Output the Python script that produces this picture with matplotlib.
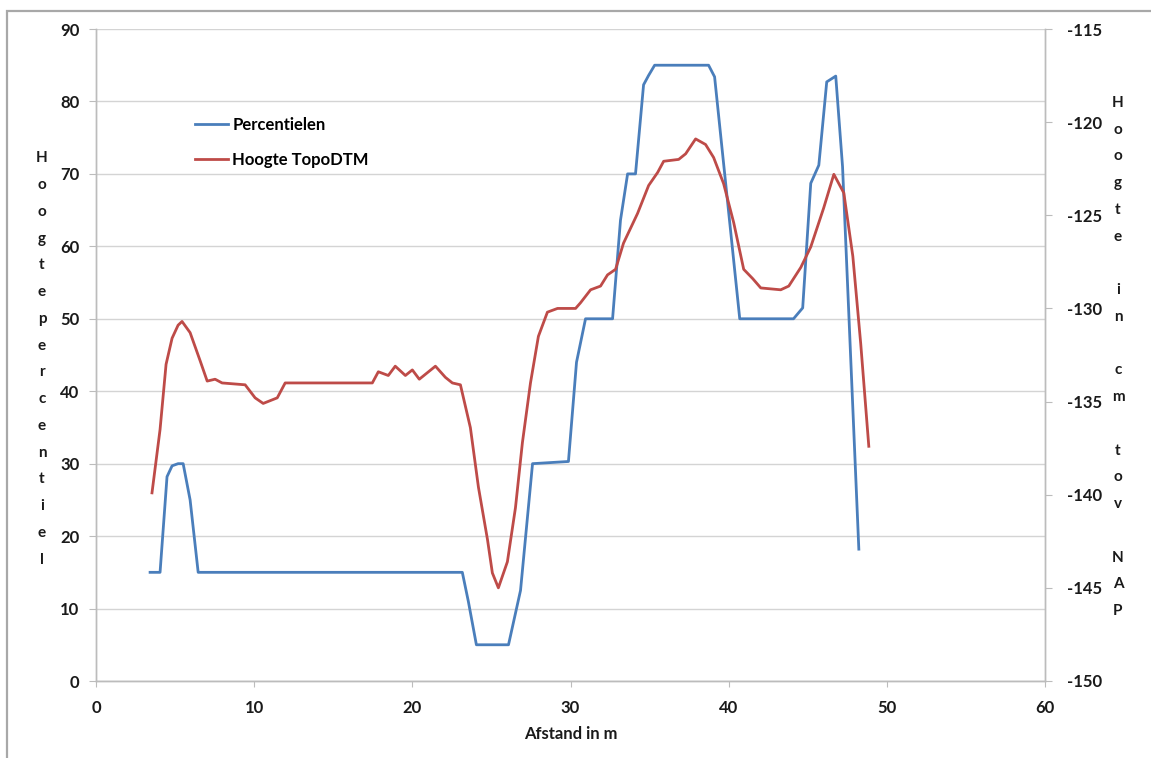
import matplotlib
matplotlib.use("Agg")
import matplotlib.pyplot as plt
from matplotlib.lines import Line2D
from matplotlib.patches import Rectangle

# ---- data ----
perc_x = [3.42, 4.05, 4.49, 4.81, 5.19, 5.51, 5.95, 6.46, 23.16, 23.54, 24.05, 26.08,
          26.84, 27.6, 29.87, 30.38, 30.95, 32.66, 33.16, 33.61, 34.11, 34.62, 34.94,
          35.32, 38.73, 39.11, 40.7, 44.1, 44.68, 45.19, 45.7, 46.2, 46.77, 47.2, 48.23]
perc_y = [15, 15, 28.2, 29.7, 30, 30, 25, 15, 15, 11, 5, 5,
          12.5, 30, 30.3, 44, 50, 50, 63.6, 70, 70, 82.3, 83.6,
          85, 85, 83.4, 50, 50, 51.5, 68.7, 71.2, 82.7, 83.5, 71, 18.2]

topo_x = [3.54, 4.05, 4.43, 4.81, 5.19, 5.44, 5.95, 6.58, 7.03, 7.53, 7.97, 9.43,
          10.06, 10.57, 11.46, 11.96, 17.47, 17.85, 18.48, 18.92, 19.56, 20.0, 20.44,
          21.46, 22.09, 22.53, 23.04, 23.67, 24.18, 24.75, 25.06, 25.44, 26.01, 26.52,
          26.96, 27.47, 27.97, 28.54, 29.18, 30.32, 30.63, 31.27, 31.9, 32.34, 32.85,
          33.35, 34.24, 34.94, 35.51, 35.89, 36.84, 37.28, 37.91, 38.54, 39.05, 39.68,
          40.32, 40.95, 41.52, 42.03, 43.29, 43.8, 44.56, 45.19, 46.01, 46.65, 47.28,
          47.85, 48.35, 48.86]
topo_y = [-139.9, -136.5, -133.0, -131.6, -130.9, -130.7, -131.3, -132.8, -133.9, -133.8,
          -134.0, -134.1, -134.8, -135.1, -134.8, -134.0, -134.0, -133.4, -133.6, -133.1,
          -133.6, -133.3, -133.8, -133.1, -133.7, -134.0, -134.1, -136.4, -139.6, -142.4,
          -144.2, -145.0, -143.6, -140.7, -137.2, -134.0, -131.5, -130.2, -130.0, -130.0,
          -129.7, -129.0, -128.8, -128.2, -127.9, -126.5, -124.9, -123.4, -122.7, -122.1,
          -122.0, -121.7, -120.9, -121.2, -121.9, -123.3, -125.4, -127.9, -128.4, -128.9,
          -129.0, -128.8, -127.8, -126.7, -124.6, -122.8, -123.8, -127.2, -131.9, -137.4]

x_ticks = [0, 10, 20, 30, 40, 50, 60]
left_ticks = [0, 10, 20, 30, 40, 50, 60, 70, 80, 90]
right_ticks = [-150, -145, -140, -135, -130, -125, -120, -115]

series_labels = ["Percentielen", "Hoogte TopoDTM"]
x_label = "Afstand in m"
left_label = "Hoogte percentiel"
right_label = "Hoogte in cm tov NAP"

BLUE = "#4a7ebb"
RED = "#be4b48"
GRID = "#d4d4d4"
SPINE = "#bcbcbc"
TXT = "#1a1a1a"
FONT = ["Lato", "DejaVu Sans"]

plt.rcParams['font.family'] = FONT
plt.rcParams['font.weight'] = 'bold'

W, H = 1151, 758
fig = plt.figure(figsize=(W / 100, H / 100), dpi=100)
fig.patch.set_facecolor("white")

# outer border (top and left visible)
fig.patches.append(Rectangle((7 / W, -0.05), 1.2, 1 - 11 / H + 0.05, transform=fig.transFigure,
                             fill=False, edgecolor="#a8a8a8", linewidth=1.6))

ax = fig.add_axes([96 / W, 1 - 681 / H, (1045 - 96) / W, (681 - 29) / H])
ax2 = ax.twinx()

ax.plot(perc_x, perc_y, color=BLUE, lw=2.0, solid_joinstyle='round')
ax2.plot(topo_x, topo_y, color=RED, lw=2.0, solid_joinstyle='round')

ax.set_xlim(0, 60)
ax.set_ylim(0, 90)
ax2.set_ylim(-150, -115)
ax.set_xticks(x_ticks)
ax.set_yticks(left_ticks)
ax2.set_yticks(right_ticks)
ax2.set_yticklabels([str(t) for t in right_ticks])

ax.yaxis.grid(True, color=GRID, lw=1.0)
ax.set_axisbelow(True)

for a in (ax, ax2):
    for s in a.spines.values():
        s.set_color(SPINE)
        s.set_linewidth(1.0)
    a.spines['top'].set_visible(False)

ax.tick_params(axis='y', length=5, color=SPINE, pad=7, labelsize=12, labelcolor=TXT)
ax.tick_params(axis='x', length=4, color=SPINE, pad=10, labelsize=12, labelcolor=TXT)
ax2.tick_params(axis='y', length=5, color=SPINE, pad=11, labelsize=12, labelcolor=TXT)
for lab in ax.get_xticklabels() + ax.get_yticklabels() + ax2.get_yticklabels():
    lab.set_fontweight('bold')

ax.set_xlabel(x_label, fontsize=12, fontweight='bold', labelpad=7, color=TXT)

# stacked vertical axis titles
left_txt = "\n".join(ch for ch in left_label.replace(" ", ""))
right_txt = "\n".join(ch if ch != " " else "" for ch in right_label)
fig.text(42 / W, 1 - 359 / H, left_txt, ha='center', va='center', fontsize=11,
         fontweight='bold', linespacing=2.16, color=TXT)
fig.text(1118 / W, 1 - 357 / H, right_txt, ha='center', va='center', fontsize=11,
         fontweight='bold', linespacing=2.16, color=TXT)

handles = [Line2D([], [], color=BLUE, lw=2.0), Line2D([], [], color=RED, lw=2.0)]
ax2.legend(handles, series_labels, loc='upper left', frameon=False,
           bbox_to_anchor=(195 / W, 1 - 117 / H), bbox_transform=fig.transFigure,
           borderpad=0, borderaxespad=0, handlelength=2.0, handletextpad=0.25,
           labelspacing=1.15, prop={'size': 12, 'weight': 'bold', 'family': FONT})

fig.savefig("out.png", dpi=100, facecolor="white")
